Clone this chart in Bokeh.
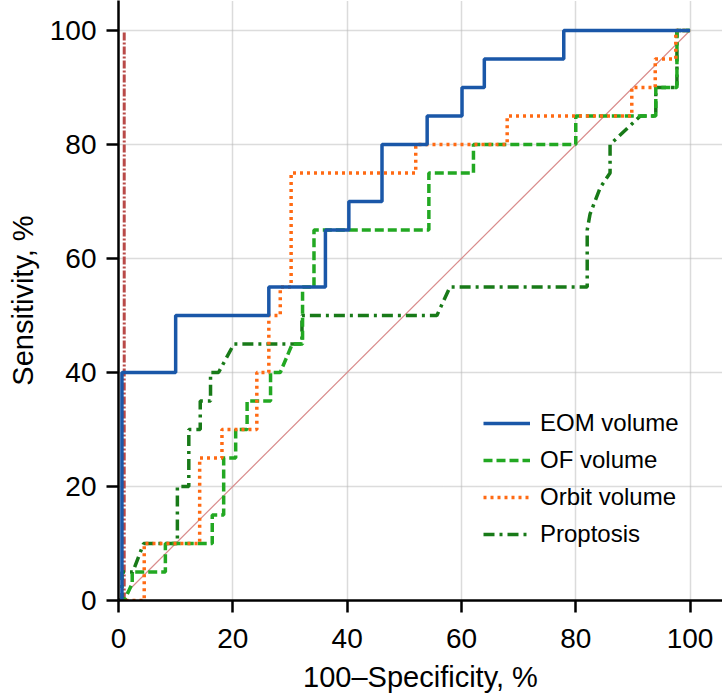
from bokeh.plotting import figure
from bokeh.models import Range1d, FixedTicker, Legend, LegendItem
from bokeh.embed import file_html
from bokeh.resources import INLINE

# ---- data ----
ticks = [0, 20, 40, 60, 80, 100]

eom_x = [0, 0.6, 0.6, 10, 10, 26.3, 26.3, 36.2, 36.2, 40.3, 40.3, 46.1, 46.1,
         54, 54, 60.1, 60.1, 64, 64, 77.9, 77.9, 100]
eom_y = [0, 0, 40, 40, 50, 50, 55, 55, 65, 65, 70, 70, 80,
         80, 85, 85, 90, 90, 95, 95, 100, 100]

of_x = [0, 1, 2.4, 2.4, 8.2, 8.2, 16.4, 16.4, 18.4, 18.4, 20.5, 20.5, 22.5, 22.5,
        26.6, 26.6, 28.3, 30.4, 32.2, 32.2, 34.2, 34.2, 54.3, 54.3, 62.1, 62.1,
        80, 80, 94, 94, 97.7, 97.7, 100]
of_y = [0, 0, 3, 5, 5, 10, 10, 15, 15, 25, 25, 30, 30, 35,
        35, 40, 40, 45, 45, 55, 55, 65, 65, 75, 75, 80,
        80, 85, 85, 90, 90, 100, 100]

orbit_x = [0, 1, 4.5, 4.5, 14.2, 14.2, 18.1, 18.1, 24.2, 24.2, 26.3, 26.3, 28.3, 28.3,
           30.2, 30.2, 52, 52, 68, 68, 89.8, 89.8, 93.9, 93.9, 97.5, 97.5, 100]
orbit_y = [0, 0, 0, 10, 10, 25, 25, 30, 30, 40, 40, 50, 50, 55,
           55, 75, 75, 80, 80, 85, 85, 90, 90, 95, 95, 100, 100]

prop_x = [0, 0.6, 0.6, 2.5, 4.4, 10.3, 10.3, 12.3, 12.3, 14.3, 14.3, 16.1, 16.1, 17.5,
          20.2, 32.1, 32.1, 55.7, 58, 82, 82, 82.5, 84.3, 86, 86, 91.3, 94, 94,
          97.7, 97.7, 100]
prop_y = [0, 0, 5, 5, 10, 10, 20, 20, 30, 30, 35, 35, 40, 40,
          45, 45, 50, 50, 55, 55, 65, 67.8, 72.5, 75, 80, 85, 85, 90,
          90, 100, 100]

diag_x = [0, 100]
diag_y = [0, 100]
vref_x = [1, 1]
vref_y = [0, 100]

labels = ["EOM volume", "OF volume", "Orbit volume", "Proptosis"]

FONT = "Liberation Sans"

p = figure(width=722, height=699,
           x_range=Range1d(0, 105.67), y_range=Range1d(0, 105.26),
           output_backend="svg", toolbar_location=None,
           min_border_left=118, min_border_right=0, min_border_top=0,
           min_border_bottom=99)
p.outline_line_color = None
p.background_fill_color = "white"
p.border_fill_color = "white"

for ax in (p.xaxis[0], p.yaxis[0]):
    ax.ticker = FixedTicker(ticks=ticks)
    ax.axis_line_width = 2.5
    ax.axis_line_color = "black"
    ax.major_tick_line_width = 2.5
    ax.major_tick_line_color = "black"
    ax.major_tick_out = 12
    ax.major_tick_in = 0
    ax.minor_tick_line_color = None
    ax.major_label_text_font = FONT
    ax.major_label_text_font_size = "28px"
    ax.major_label_text_color = "black"
    ax.axis_label_text_font = FONT
    ax.axis_label_text_font_size = "29px"
    ax.axis_label_text_font_style = "normal"
    ax.axis_label_text_color = "black"

p.xaxis.axis_label = "100\u2013Specificity, %"
p.yaxis.axis_label = "Sensitivity, %"
p.xaxis.major_label_standoff = 16
p.yaxis.major_label_standoff = 10
p.xaxis.axis_label_standoff = 10
p.yaxis.axis_label_standoff = 8

for g in (p.xgrid[0], p.ygrid[0]):
    g.ticker = FixedTicker(ticks=ticks)
    g.grid_line_color = "#b8b8b8"
    g.grid_line_width = 1.5
    g.grid_line_dash = "1 1"

p.line(diag_x, diag_y, line_color="#d98c8c", line_width=1.2)
p.line(vref_x, vref_y, line_color="#b94a48", line_width=3, line_dash="8 2 2 2")

r_prop = p.line(prop_x, prop_y, line_color="#187a18", line_width=3.5, line_dash="11 5 3 5")
r_of = p.line(of_x, of_y, line_color="#22a822", line_width=3.5, line_dash="9 4")
r_orbit = p.line(orbit_x, orbit_y, line_color="#ff6a13", line_width=3.5, line_dash="3 4")
r_eom = p.line(eom_x, eom_y, line_color="#1a57a8", line_width=3.5)

legend = Legend(items=[LegendItem(label=labels[0], renderers=[r_eom]),
                       LegendItem(label=labels[1], renderers=[r_of]),
                       LegendItem(label=labels[2], renderers=[r_orbit]),
                       LegendItem(label=labels[3], renderers=[r_prop])],
                location=(365, 49.5), glyph_width=47, glyph_height=34,
                label_height=34, spacing=3, padding=0, margin=0,
                label_standoff=10, label_text_font=FONT,
                label_text_font_size="24px", label_text_color="black",
                border_line_alpha=0, background_fill_alpha=0)
p.add_layout(legend)

open("out.html", "w").write(file_html(p, INLINE))
